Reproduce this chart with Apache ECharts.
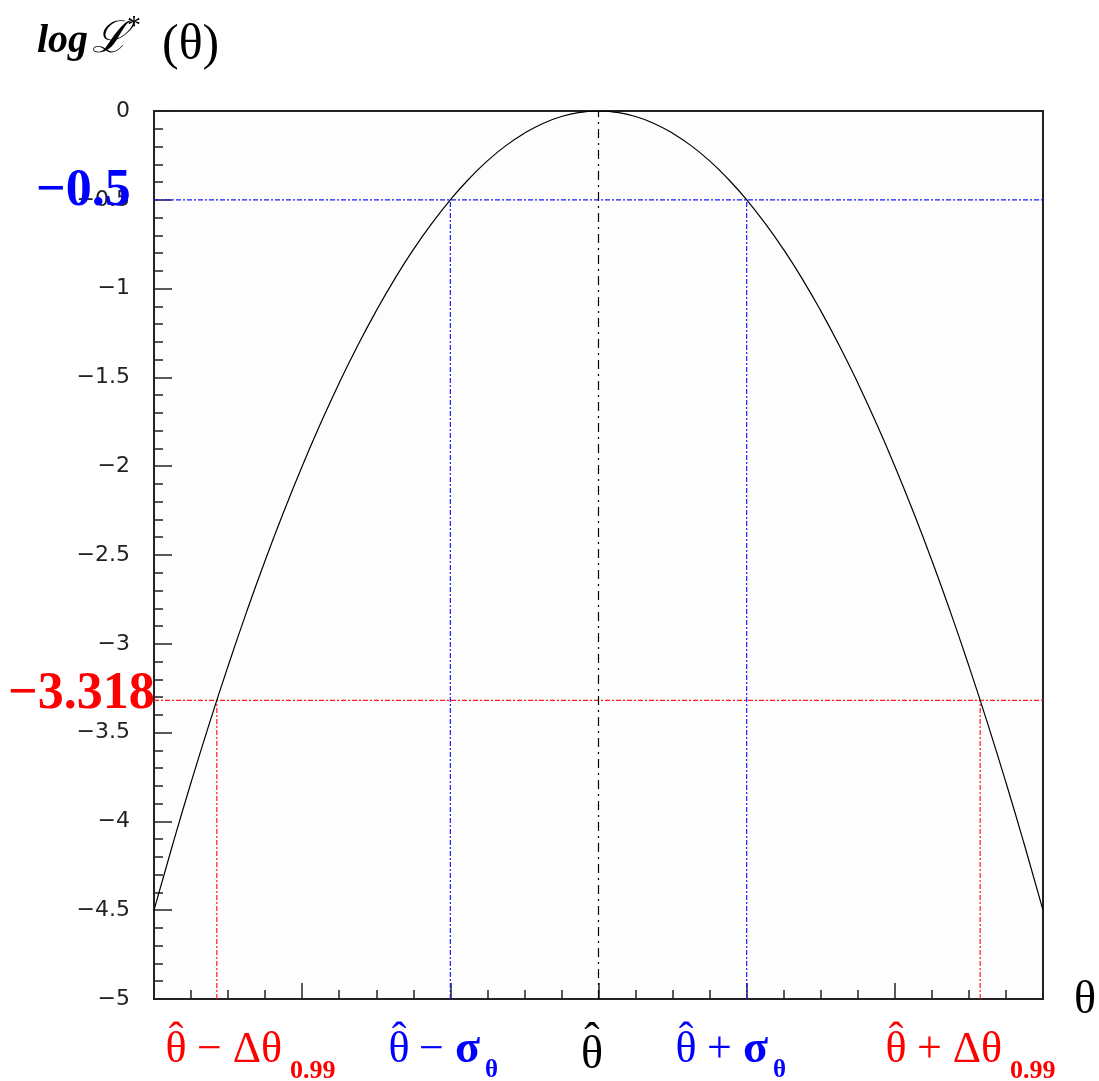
<!DOCTYPE html>
<html><head><meta charset="utf-8">
<script src="https://cdn.jsdelivr.net/npm/echarts@6/dist/echarts.min.js"></script>
<style>html,body{margin:0;padding:0;background:#fff}#c{width:1099px;height:1081px}</style>
</head><body><div id="c"></div>
<script>
// Curve (theta in units of sigma, log L*)
const thetaValues = [-3, -2.875, -2.75, -2.625, -2.5, -2.375, -2.25, -2.125, -2, -1.875, -1.75, -1.625, -1.5,
  -1.375, -1.25, -1.125, -1, -0.875, -0.75, -0.625, -0.5, -0.375, -0.25, -0.125, 0,
  0.125, 0.25, 0.375, 0.5, 0.625, 0.75, 0.875, 1, 1.125, 1.25, 1.375, 1.5,
  1.625, 1.75, 1.875, 2, 2.125, 2.25, 2.375, 2.5, 2.625, 2.75, 2.875, 3];
const logLValues = [-4.5, -4.133, -3.781, -3.445, -3.125, -2.82, -2.531, -2.258, -2, -1.758, -1.531, -1.32, -1.125,
  -0.945, -0.781, -0.633, -0.5, -0.383, -0.281, -0.195, -0.125, -0.07, -0.031, -0.008, 0,
  -0.008, -0.031, -0.07, -0.125, -0.195, -0.281, -0.383, -0.5, -0.633, -0.781, -0.945, -1.125,
  -1.32, -1.531, -1.758, -2, -2.258, -2.531, -2.82, -3.125, -3.445, -3.781, -4.133, -4.5];
// reference levels
const sigmaLevel = -0.5;
const ciLevel = -3.318;
const sigmaTheta = [-1, 1];
const ciTheta = [-2.576, 2.576];
const thetaHat = 0;
const xRange = [-3, 3];
const yRange = [-5, 0];
const sigmaLabel = '\u22120.5';
const ciLabel = '\u22123.318';

const curve = thetaValues.map((t, i) => [t, logLValues[i]]);
const dashDot = [5, 2, 2, 2];
function seg(data, color, dash) {
  return { type: 'line', data, symbol: 'none', silent: true, z: 1,
    lineStyle: { color, width: 1.2, type: dash } };
}
const series = [
  seg([[xRange[0], sigmaLevel], [xRange[1], sigmaLevel]], '#1a1aff', dashDot),
  seg([[sigmaTheta[0], yRange[0]], [sigmaTheta[0], sigmaLevel]], '#1a1aff', dashDot),
  seg([[sigmaTheta[1], yRange[0]], [sigmaTheta[1], sigmaLevel]], '#1a1aff', dashDot),
  seg([[xRange[0], ciLevel], [xRange[1], ciLevel]], '#ff1a1a', dashDot),
  seg([[ciTheta[0], yRange[0]], [ciTheta[0], ciLevel]], '#ff1a1a', dashDot),
  seg([[ciTheta[1], yRange[0]], [ciTheta[1], ciLevel]], '#ff1a1a', dashDot),
  seg([[thetaHat, yRange[0]], [thetaHat, yRange[1]]], '#000', [9, 5, 2, 5]),
  { type: 'line', data: curve, symbol: 'none', smooth: 0.5, silent: true, z: 3,
    lineStyle: { color: '#000', width: 1.2 } }
];

const serif = '"Liberation Serif","DejaVu Serif",serif';
const RED = '#ff0000', BLUE = '#0000ff';
// text piece: x = left (or centre if align given), y = vertical middle of the em box
function piece(x, y, text, font, fill, align) {
  return { type: 'text', x, y, z: 100, silent: true,
    style: { text, font, fill, align: align || 'left', verticalAlign: 'middle' } };
}
function hatted(xc, yTheta, yHat, size, fill) {
  return [
    piece(xc, yTheta, '\u03b8', size + 'px ' + serif, fill, 'center'),
    piece(xc, yHat, '\u02c6', size + 'px ' + serif, fill, 'center')
  ];
}
const gElems = [];
// title
gElems.push(piece(37, 42, 'log', 'italic bold 40px ' + serif, '#000'));
gElems.push(piece(92, 40, '\u2112', 'italic 44px ' + serif, '#000'));
gElems.push(piece(127, 27, '*', '28px ' + serif, '#000'));
gElems.push(piece(162, 46, '(\u03b8)', '50px ' + serif, '#000'));
// reference level labels
gElems.push(piece(36, 192, sigmaLabel, 'bold 52px ' + serif, BLUE));
gElems.push(piece(8, 695, ciLabel, 'bold 52px ' + serif, RED));
// x-axis name
gElems.push(piece(1074, 1001, '\u03b8', '46px ' + serif, '#000'));
// bottom labels
const mainF = '44px ' + serif, subF = 'bold 26px ' + serif;
const sigF = 'bold 46px ' + serif;
const yT = 1050, yH = 1040;
gElems.push(...hatted(176, yT, yH, 44, RED));
gElems.push(piece(197, yT, '\u2212 \u0394\u03b8', mainF, RED));
gElems.push(piece(290, 1071, '0.99', subF, RED));

gElems.push(...hatted(399, yT, yH, 44, BLUE));
gElems.push(piece(419, yT, '\u2212', mainF, BLUE));
gElems.push(piece(455, yT, '\u03c3', sigF, BLUE));
gElems.push(piece(485, 1071, '\u03b8', 'bold 25px ' + serif, BLUE));

gElems.push(...hatted(592, 1056, 1043, 46, '#000'));

gElems.push(...hatted(686, yT, yH, 44, BLUE));
gElems.push(piece(707, yT, '+', mainF, BLUE));
gElems.push(piece(743, yT, '\u03c3', sigF, BLUE));
gElems.push(piece(773, 1071, '\u03b8', 'bold 25px ' + serif, BLUE));

gElems.push(...hatted(896, yT, yH, 44, RED));
gElems.push(piece(917, yT, '+ \u0394\u03b8', mainF, RED));
gElems.push(piece(1010, 1071, '0.99', subF, RED));

const chart = echarts.init(document.getElementById('c'), null, { renderer: 'canvas' });
chart.setOption({
  animation: false,
  backgroundColor: '#fff',
  grid: { left: 154, top: 111, width: 889, height: 888, show: true,
    borderColor: '#222', borderWidth: 2, backgroundColor: '#fdfdfd' },
  xAxis: { type: 'value', min: xRange[0], max: xRange[1], interval: 1,
    axisLine: { show: true, onZero: false, lineStyle: { color: '#222', width: 2 } },
    axisTick: { show: true, inside: true, length: 16, lineStyle: { color: '#222', width: 1.5 } },
    minorTick: { show: true, splitNumber: 4, length: 9, lineStyle: { color: '#222', width: 1.5 } },
    axisLabel: { show: false }, splitLine: { show: false } },
  yAxis: { type: 'value', min: yRange[0], max: yRange[1], interval: 0.5,
    axisLine: { show: true, onZero: false, lineStyle: { color: '#222', width: 2 } },
    axisTick: { show: true, inside: true, length: 18, lineStyle: { color: '#222', width: 1.5 } },
    minorTick: { show: true, splitNumber: 5, length: 9, lineStyle: { color: '#222', width: 1.5 } },
    axisLabel: { margin: 24, color: '#222', fontSize: 22, fontFamily: '"DejaVu Sans",sans-serif',
      formatter: v => String(v).replace('-', '\u2212') },
    splitLine: { show: false } },
  series,
  graphic: gElems
});
</script></body></html>
